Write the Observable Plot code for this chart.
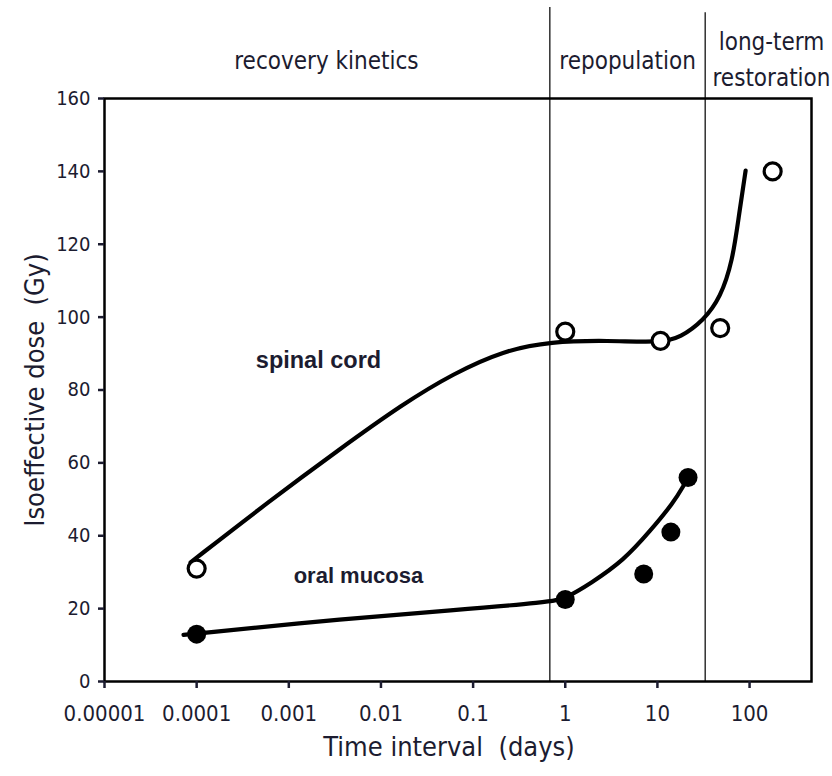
<!DOCTYPE html>
<html>
<head>
<meta charset="utf-8">
<script src="https://cdn.jsdelivr.net/npm/d3@7"></script>
<script src="https://cdn.jsdelivr.net/npm/@observablehq/plot@0.6"></script>
<style>
  html, body { margin: 0; padding: 0; background: #fff; }
  #chart svg { display: block; }
</style>
</head>
<body>
<div id="chart"></div>
<script>
// Measured isoeffective doses
const spinalDays = [0.0001, 1, 10.8, 48, 178];
const spinalDose = [31, 96, 93.5, 97, 140];
const mucosaDays = [0.0001, 1, 7.1, 14, 21.5];
const mucosaDose = [13, 22.5, 29.5, 41, 56];

// Hand-fitted trend curves
const spinalCurveDays = [8.6e-5, 6.3e-4, 3.4e-3, 0.0176, 0.061, 0.214, 0.69, 2.9, 10.8, 17.8, 31.7, 48.5, 65.4, 76, 90.6];
const spinalCurveDose = [32.7, 49.7, 63.4, 76.3, 84.5, 90.8, 93.3, 93.6, 93.0, 94.4, 99.1, 105.4, 115.5, 127.3, 140.2];
const mucosaCurveDays = [7.2e-5, 4.7e-3, 0.057, 0.68, 1, 1.88, 4.3, 8.4, 15, 20];
const mucosaCurveDose = [12.8, 17.4, 19.5, 21.8, 22.8, 26.9, 33.2, 41.4, 49.1, 54.5];

// Phase boundaries and headings
const boundaryDays = [0.68, 33];
const boundaryTop = [185, 183.5];
const phaseLabels = ["recovery kinetics", "repopulation", "long-term\nrestoration"];
const phaseDays = [0.00256, 4.75, 173];
const phaseDose = [171.2, 171.2, 171.5];

// Curve names
const spinalLabel = {t: "spinal cord", x: 0.0021, y: 88.1};
const mucosaLabel = {t: "oral mucosa", x: 0.0057, y: 29.1};

// Axes
const xTicks = [0.00001, 0.0001, 0.001, 0.01, 0.1, 1, 10, 100];
const xTickLabels = ["0.00001", "0.0001", "0.001", "0.01", "0.1", "1", "10", "100"];
const yTicks = [0, 20, 40, 60, 80, 100, 120, 140, 160];

const zip = (xs, ys) => xs.map((x, i) => ({x, y: ys[i]}));
const spinalPts = zip(spinalDays, spinalDose);
const mucosaPts = zip(mucosaDays, mucosaDose);
const spinalCurve = zip(spinalCurveDays, spinalCurveDose);
const mucosaCurve = zip(mucosaCurveDays, mucosaCurveDose);
const boundaries = boundaryDays.map((x, i) => ({x, top: boundaryTop[i]}));
const phases = phaseLabels.map((t, i) => ({t, x: phaseDays[i], y: phaseDose[i]}));

const xLabel = d => {
  const i = xTicks.findIndex(t => Math.abs(Math.log10(t / d)) < 1e-6);
  return i < 0 ? "" : xTickLabels[i];
};

const narrow = '"Liberation Sans Narrow", "Arial Narrow", "DejaVu Sans Condensed", sans-serif';
const bold = '"Liberation Sans", Arial, sans-serif';
const ink = "#1c1c30";

const chart = Plot.plot({
  width: 832,
  height: 776,
  marginLeft: 104,
  marginRight: 21,
  marginTop: 98,
  marginBottom: 95,
  style: {fontFamily: narrow, background: "#fff", color: ink, overflow: "visible"},
  x: {type: "log", domain: [1e-5, 470]},
  y: {domain: [0, 160]},
  marks: [
    Plot.ruleX(boundaries, {x: "x", y1: 0, y2: "top", stroke: "#222", strokeWidth: 1.4, clip: false}),
    Plot.line(spinalCurve, {x: "x", y: "y", curve: "basis", stroke: "#000", strokeWidth: 4.2}),
    Plot.line(mucosaCurve, {x: "x", y: "y", curve: "basis", stroke: "#000", strokeWidth: 4.2}),
    Plot.dot(spinalPts, {x: "x", y: "y", r: 8.5, fill: "#fff", stroke: "#000", strokeWidth: 3.2}),
    Plot.dot(mucosaPts, {x: "x", y: "y", r: 9.5, fill: "#000", stroke: "none"}),
    Plot.frame({stroke: "#000", strokeWidth: 2.5}),
    Plot.axisX({
      ticks: xTicks, tickFormat: xLabel,
      tickSize: 7, tickPadding: 17, strokeWidth: 2.5, fontSize: 22, label: null
    }),
    Plot.axisY({
      ticks: yTicks, tickSize: 6, tickPadding: 8, strokeWidth: 2.5, fontSize: 20, label: null
    }),
    Plot.text(phases, {x: "x", y: "y", text: "t", fontSize: 24, lineHeight: 1.5, fill: ink, clip: false}),
    Plot.text([spinalLabel], {x: "x", y: "y", text: "t", fontSize: 23.5, fontWeight: "bold", fontFamily: bold, fill: ink}),
    Plot.text([mucosaLabel], {x: "x", y: "y", text: "t", fontSize: 22, fontWeight: "bold", fontFamily: bold, fill: ink}),
    Plot.text(["Time interval  (days)"], {frameAnchor: "bottom", lineAnchor: "middle", dx: -9, dy: 66, fontSize: 27, fill: ink, clip: false}),
    Plot.text(["Isoeffective dose  (Gy)"], {frameAnchor: "left", textAnchor: "middle", dx: -69, rotate: -90, fontSize: 27, fill: ink, clip: false})
  ]
});

document.getElementById("chart").appendChild(chart);
</script>
</body>
</html>
